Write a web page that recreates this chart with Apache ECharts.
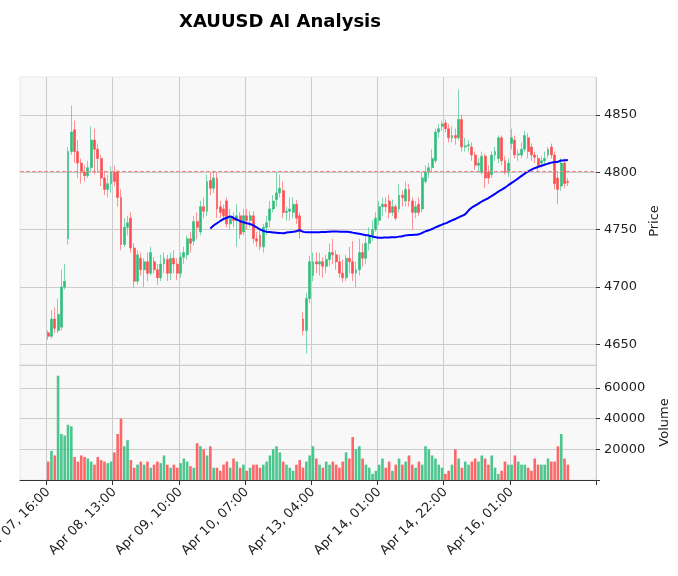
<!DOCTYPE html>
<html>
<head>
<meta charset="utf-8">
<script src="https://cdn.jsdelivr.net/npm/echarts@6/dist/echarts.min.js"></script>
<style>html,body{margin:0;background:#fff}#c{width:678px;height:576px}</style>
</head>
<body>
<div id="c"></div>
<script>
// [open, close, low, high]
const CANDLES = [
  [4660,4657,4654,4662],[4657,4672,4655,4680],[4672,4664,4660,4682],[4662,4676,4660,4690],[4665,4700,4662,4715],
  [4700,4705,4698,4720],[4742,4818,4737,4822],[4818,4835,4815,4858],[4837,4818,4808,4845],[4818,4808,4795,4828],
  [4808,4800,4790,4812],[4800,4797,4792,4806],[4797,4804,4795,4810],[4804,4828,4800,4840],[4828,4820,4798,4838],
  [4820,4812,4800,4825],[4812,4795,4788,4815],[4795,4785,4780,4800],[4785,4790,4778,4798],[4790,4800,4782,4805],
  [4800,4792,4788,4806],[4800,4778,4770,4802],[4778,4737,4732,4785],[4737,4752,4735,4760],[4752,4756,4745,4762],
  [4760,4734,4730,4765],[4734,4705,4700,4738],[4705,4728,4702,4732],[4725,4715,4710,4730],[4715,4722,4700,4725],
  [4722,4712,4705,4730],[4712,4730,4710,4735],[4722,4715,4712,4726],[4715,4708,4702,4720],[4708,4720,4705,4728],
  [4720,4725,4712,4730],[4724,4712,4705,4728],[4712,4725,4706,4730],[4725,4720,4712,4732],[4720,4712,4706,4725],
  [4712,4726,4708,4730],[4726,4730,4720,4735],[4728,4742,4724,4745],[4742,4738,4730,4748],[4740,4757,4736,4762],
  [4757,4752,4742,4765],[4748,4770,4745,4775],[4770,4766,4760,4778],[4766,4792,4762,4798],[4793,4786,4780,4800],
  [4786,4795,4782,4801],[4795,4768,4760,4800],[4770,4765,4760,4775],[4768,4762,4758,4772],[4775,4755,4752,4778],
  [4755,4760,4750,4768],[4760,4758,4752,4765],[4758,4762,4735,4772],[4762,4746,4742,4765],[4748,4762,4745,4768],
  [4762,4758,4750,4768],[4758,4762,4752,4766],[4762,4742,4738,4766],[4742,4740,4735,4748],[4745,4735,4732,4750],
  [4735,4752,4730,4755],[4752,4756,4745,4762],[4758,4768,4752,4775],[4768,4775,4765,4780],[4776,4782,4770,4800],
  [4782,4786,4778,4798],[4784,4765,4760,4792],[4765,4766,4758,4770],[4766,4768,4758,4778],[4765,4772,4760,4778],
  [4772,4760,4755,4776],[4762,4748,4742,4765],[4672,4662,4658,4678],[4662,4690,4642,4695],[4690,4722,4686,4727],
  [4710,4722,4705,4730],[4722,4720,4712,4730],[4720,4722,4710,4730],[4722,4718,4708,4726],[4718,4724,4712,4728],
  [4724,4730,4718,4738],[4730,4728,4720,4742],[4728,4722,4715,4732],[4722,4712,4708,4728],[4712,4708,4704,4724],
  [4708,4725,4705,4728],[4725,4722,4712,4735],[4722,4712,4705,4740],[4712,4715,4700,4722],[4715,4730,4710,4742],
  [4730,4725,4718,4738],[4725,4738,4720,4745],[4738,4745,4732,4752],[4745,4750,4740,4758],[4750,4760,4748,4765],
  [4758,4770,4754,4775],[4770,4772,4762,4778],[4772,4770,4765,4778],[4775,4765,4760,4780],[4765,4770,4762,4776],
  [4770,4760,4758,4772],[4768,4780,4765,4790],[4780,4778,4770,4784],[4775,4785,4770,4792],[4785,4775,4770,4790],
  [4775,4765,4750,4778],[4765,4770,4760,4775],[4772,4765,4762,4778],[4768,4795,4765,4800],[4792,4800,4790,4806],
  [4800,4804,4795,4808],[4804,4812,4800,4820],[4810,4835,4808,4838],[4835,4838,4830,4842],[4840,4842,4836,4845],
  [4843,4838,4835,4846],[4838,4830,4826,4842],[4830,4832,4826,4840],[4832,4830,4824,4838],[4830,4846,4828,4872],
  [4846,4822,4818,4850],[4822,4823,4818,4830],[4823,4824,4818,4828],[4822,4815,4810,4826],[4815,4806,4802,4818],
  [4806,4808,4800,4812],[4800,4814,4798,4818],[4814,4795,4786,4816],[4800,4795,4790,4806],[4798,4815,4795,4818],
  [4815,4818,4810,4822],[4812,4830,4808,4832],[4830,4810,4806,4832],[4810,4800,4798,4814],[4800,4808,4796,4812],
  [4825,4830,4820,4838],[4828,4815,4812,4832],[4815,4816,4810,4820],[4815,4820,4812,4826],[4820,4832,4818,4836],
  [4830,4818,4812,4834],[4822,4815,4810,4825],[4815,4813,4808,4818],[4812,4805,4800,4815],[4808,4810,4804,4814],
  [4810,4812,4806,4818],[4815,4820,4812,4822],[4822,4815,4812,4825],[4815,4790,4785,4818],[4795,4785,4772,4800],
  [4788,4808,4784,4812],[4808,4790,4786,4812],[4792,4791,4788,4795]
]
const VOLUME = [
  12,19,16,68,30,29,36,35,15,12, 16,15,14,12,10,15,13,12,11,12,
  18,30,40,22,26,13,8,10,12,10, 12,8,10,12,11,16,10,8,10,8,
  11,14,12,9,8,24,22,20,16,22, 8,8,6,10,12,8,14,12,8,10,
  6,8,10,10,8,10,12,16,20,22, 18,12,10,8,6,10,13,8,12,16,
  22,14,10,8,12,10,12,10,8,12, 18,14,28,20,22,14,10,8,4,6,
  10,14,8,12,6,10,14,10,12,16, 10,8,12,10,22,20,16,14,10,8,
  4,6,10,20,14,8,12,10,12,14, 12,16,14,10,16,8,4,6,12,10,
  10,16,12,10,10,8,6,14,10,10, 10,14,12,12,22,30,14,10
].map(v => v * 1000)
const TICK_LABELS = ["Apr 07, 16:00", "Apr 08, 13:00", "Apr 09, 10:00", "Apr 10, 07:00", "Apr 13, 04:00", "Apr 14, 01:00", "Apr 14, 22:00", "Apr 16, 01:00"]
const PRICE_TICKS = [4650, 4700, 4750, 4800, 4850]
const TICK_EVERY = 20
const REF_LEVEL = 4801
const MA_WINDOW = 50

const PAD_L = 8, PAD_R = 8
const UP = "#2ebd7b", DOWN = "#ff4d4f"

const n = CANDLES.length
const cats = []
for (let i = 0; i < PAD_L + n + PAD_R; i++) cats.push(i)
const isTick = c => { const k = c - PAD_L; return k >= 0 && k % TICK_EVERY === 0 && k / TICK_EVERY < TICK_LABELS.length }
const pad = a => Array(PAD_L).fill("-").concat(a, Array(PAD_R).fill("-"))

const ma = CANDLES.map((_, i) => {
  if (i < MA_WINDOW - 1) return "-"
  let s = 0
  for (let j = i - MA_WINDOW + 1; j <= i; j++) s += CANDLES[j][1]
  return +(s / MA_WINDOW).toFixed(2)
})
const vol = VOLUME.map((v, i) => ({ value: v, itemStyle: { color: CANDLES[i][1] >= CANDLES[i][0] ? UP : DOWN, opacity: 0.85 } }))

const xBase = {
  type: "category", data: cats, boundaryGap: true,
  axisLine: { show: false },
  axisTick: { show: false },
  axisLabel: { show: false },
  splitLine: { show: true, interval: (i) => isTick(i), lineStyle: { color: "#cccccc" } }
}
const yBase = {
  position: "right", scale: true,
  axisLine: { show: false }, axisTick: { show: true, length: 4, lineStyle: { color: "#333" } },
  axisLabel: { color: "#222", fontSize: 13, fontFamily: "DejaVu Sans", formatter: v => String(v) },
  splitLine: { lineStyle: { color: "#cccccc" } },
  nameLocation: "middle", nameRotate: 90, nameGap: 48,
  nameTextStyle: { color: "#222", fontSize: 13, fontFamily: "DejaVu Sans" }
}

const chart = echarts.init(document.getElementById("c"))
chart.setOption({
  animation: false,
  backgroundColor: "#fff",
  title: { text: "XAUUSD AI Analysis", left: 275, top: 8, textAlign: "center",
    textStyle: { fontSize: 18, fontWeight: "bold", color: "#000", fontFamily: "DejaVu Sans" } },
  grid: [
    { left: 20, right: 82, top: 77, height: 288, outerBoundsMode: "none", show: true, backgroundColor: "#f8f8f8", borderColor: "#e6e6e6", borderWidth: 1 },
    { left: 20, right: 82, top: 365, height: 115, outerBoundsMode: "none", show: true, backgroundColor: "#f8f8f8", borderColor: "#e6e6e6", borderWidth: 1 }
  ],
  xAxis: [
    Object.assign({}, xBase, { gridIndex: 0 }),
    Object.assign({}, xBase, {
      gridIndex: 1,
      axisLine: { show: true, lineStyle: { color: "#333" } },
      axisTick: { show: true, interval: (i) => isTick(i), length: 5, lineStyle: { color: "#333" } },
      axisLabel: { show: true, interval: (i) => isTick(i), rotate: 45, margin: 10, color: "#222", fontSize: 13, fontFamily: "DejaVu Sans",
        formatter: (v) => TICK_LABELS[(v - PAD_L) / TICK_EVERY] || "" }
    })
  ],
  yAxis: [
    Object.assign({}, yBase, { gridIndex: 0, name: "Price", min: 4632, max: 4883,
      axisLabel: Object.assign({}, yBase.axisLabel, { customValues: PRICE_TICKS }),
      axisTick: Object.assign({}, yBase.axisTick, { customValues: PRICE_TICKS }) }),
    Object.assign({}, yBase, { gridIndex: 1, name: "Volume", min: 0, max: 75000, interval: 20000, nameGap: 62,
      axisLabel: Object.assign({}, yBase.axisLabel, { showMaxLabel: false, formatter: v => v === 0 ? "" : String(v) }) })
  ],
  series: [
    { type: "candlestick", xAxisIndex: 0, yAxisIndex: 0, data: pad(CANDLES), barWidth: 2.4,
      itemStyle: { color: UP, color0: DOWN, borderColor: UP, borderColor0: DOWN, borderWidth: 0.6 },
      markLine: { silent: true, symbol: "none", label: { show: false },
        lineStyle: { type: "dashed", color: "#e88", width: 1 }, data: [{ yAxis: REF_LEVEL }] } },
    { type: "line", xAxisIndex: 0, yAxisIndex: 0, data: pad(ma), showSymbol: false, smooth: true,
      lineStyle: { color: "#0000ff", width: 2 } },
    { type: "bar", xAxisIndex: 1, yAxisIndex: 1, data: pad(vol), barWidth: 2.6 }
  ]
})
</script>
</body>
</html>
